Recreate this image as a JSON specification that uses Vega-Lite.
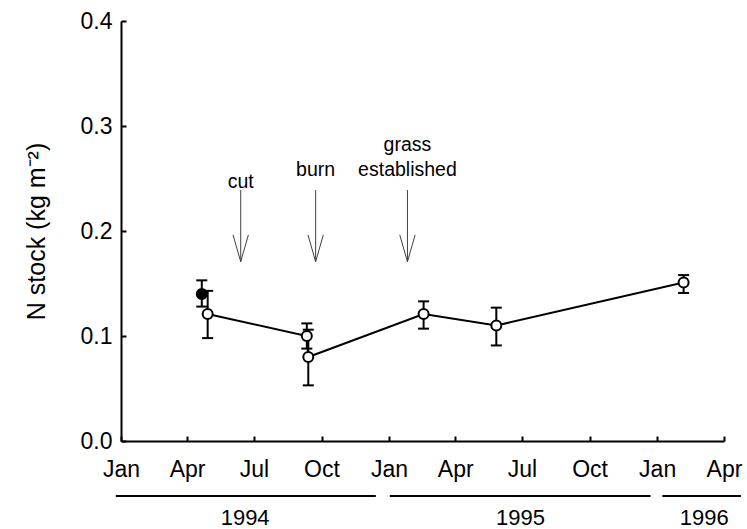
{
  "$schema": "https://vega.github.io/schema/vega-lite/v6.json",
  "width": 603,
  "height": 420,
  "autosize": {"type": "none"},
  "padding": {"left": 121, "top": 21, "right": 23, "bottom": 88},
  "background": "white",
  "config": {
    "view": {"stroke": null},
    "font": "Liberation Sans",
    "axis": {
      "grid": false,
      "labelFont": "Liberation Sans",
      "labelFontSize": 23,
      "labelColor": "black",
      "domainColor": "black",
      "domainWidth": 2,
      "tickColor": "black",
      "tickWidth": 2,
      "tickSize": -5,
      "titleFont": "Liberation Sans",
      "titleFontSize": 25,
      "titleFontWeight": "normal",
      "titleColor": "black"
    }
  },
  "datasets": {
    "points": [
      {"date": "1994-04-21", "n": 0.140, "lo": 0.128, "hi": 0.153, "group": "filled"},
      {"date": "1994-04-29", "n": 0.121, "lo": 0.098, "hi": 0.143, "group": "open"},
      {"date": "1994-09-11", "n": 0.100, "lo": 0.088, "hi": 0.112, "group": "open"},
      {"date": "1994-09-13", "n": 0.080, "lo": 0.053, "hi": 0.106, "group": "open"},
      {"date": "1995-02-17", "n": 0.121, "lo": 0.107, "hi": 0.133, "group": "open"},
      {"date": "1995-05-27", "n": 0.110, "lo": 0.091, "hi": 0.127, "group": "open"},
      {"date": "1996-02-06", "n": 0.151, "lo": 0.141, "hi": 0.158, "group": "open"}
    ],
    "events": [
      {"event": "cut", "date": "1994-06-13", "label": "cut"},
      {"event": "burn", "date": "1994-09-23", "label": "burn"},
      {"event": "grass", "date": "1995-01-26", "label": "grass\nestablished"}
    ],
    "years": [
      {"year": "1994", "start": "1993-12-25", "end": "1994-12-14", "mid": "1994-06-19"},
      {"year": "1995", "start": "1995-01-02", "end": "1995-12-23", "mid": "1995-06-29"},
      {"year": "1996", "start": "1996-01-08", "end": "1996-04-24", "mid": "1996-03-05"}
    ]
  },
  "layer": [
    {
      "data": {"name": "points"},
      "transform": [{"filter": "datum.group === 'open'"}],
      "mark": {"type": "line", "color": "black", "strokeWidth": 2},
      "encoding": {
        "x": {
          "field": "date", "type": "temporal", "title": null,
          "scale": {"type": "utc", "domain": [{"year": 1994, "month": 1, "date": 1, "utc": true}, {"year": 1996, "month": 4, "date": 1, "utc": true}]},
          "axis": {
            "values": [
              {"year": 1994, "month": 1, "date": 1, "utc": true},
              {"year": 1994, "month": 4, "date": 1, "utc": true},
              {"year": 1994, "month": 7, "date": 1, "utc": true},
              {"year": 1994, "month": 10, "date": 1, "utc": true},
              {"year": 1995, "month": 1, "date": 1, "utc": true},
              {"year": 1995, "month": 4, "date": 1, "utc": true},
              {"year": 1995, "month": 7, "date": 1, "utc": true},
              {"year": 1995, "month": 10, "date": 1, "utc": true},
              {"year": 1996, "month": 1, "date": 1, "utc": true},
              {"year": 1996, "month": 4, "date": 1, "utc": true}
            ],
            "labelExpr": "utcFormat(datum.value, '%b')",
            "labelPadding": 22,
            "labelFlush": false,
            "labelOverlap": false
          }
        },
        "y": {
          "field": "n", "type": "quantitative",
          "title": "N stock (kg m⁻²)",
          "scale": {"domain": [0, 0.4], "nice": false, "zero": false},
          "axis": {"values": [0, 0.1, 0.2, 0.3, 0.4], "format": ".1f", "labelPadding": 14, "titlePadding": 31}
        }
      }
    },
    {
      "data": {"name": "years"},
      "mark": {"type": "rule", "color": "black", "strokeWidth": 2},
      "encoding": {
        "x": {"field": "start", "type": "temporal", "title": null},
        "x2": {"field": "end"},
        "y": {"datum": -0.0524, "type": "quantitative"}
      }
    },
    {
      "data": {"name": "years"},
      "mark": {"type": "text", "fontSize": 22, "color": "black", "align": "center", "baseline": "middle"},
      "encoding": {
        "x": {"field": "mid", "type": "temporal", "title": null},
        "y": {"datum": -0.073, "type": "quantitative"},
        "text": {"field": "year"}
      }
    },
    {
      "data": {"name": "events"},
      "mark": {"type": "rule", "color": "#404040", "strokeWidth": 1},
      "encoding": {
        "x": {"field": "date", "type": "temporal", "title": null},
        "y": {"datum": 0.239, "type": "quantitative"},
        "y2": {"datum": 0.1708}
      }
    },
    {
      "data": {"name": "events"},
      "mark": {"type": "point", "shape": "M-1.92,-6.7L0,0L1.92,-6.7", "size": 64, "filled": false, "stroke": "#404040", "strokeWidth": 1, "opacity": 1},
      "encoding": {
        "x": {"field": "date", "type": "temporal", "title": null},
        "y": {"datum": 0.1708, "type": "quantitative"}
      }
    },
    {
      "data": {"name": "events"},
      "transform": [{"filter": "datum.event === 'grass'"}],
      "mark": {"type": "text", "fontSize": 19.5, "color": "black", "align": "center", "baseline": "alphabetic", "lineBreak": "\n", "lineHeight": 25},
      "encoding": {
        "x": {"field": "date", "type": "temporal", "title": null},
        "y": {"datum": 0.2762, "type": "quantitative"},
        "text": {"field": "label"}
      }
    },
    {
      "data": {"name": "events"},
      "transform": [{"filter": "datum.event === 'burn'"}],
      "mark": {"type": "text", "fontSize": 19.5, "color": "black", "align": "center", "baseline": "alphabetic"},
      "encoding": {
        "x": {"field": "date", "type": "temporal", "title": null},
        "y": {"datum": 0.2524, "type": "quantitative"},
        "text": {"field": "label"}
      }
    },
    {
      "data": {"name": "events"},
      "transform": [{"filter": "datum.event === 'cut'"}],
      "mark": {"type": "text", "fontSize": 19.5, "color": "black", "align": "center", "baseline": "alphabetic"},
      "encoding": {
        "x": {"field": "date", "type": "temporal", "title": null},
        "y": {"datum": 0.241, "type": "quantitative"},
        "text": {"field": "label"}
      }
    },
    {
      "data": {"name": "points"},
      "mark": {"type": "rule", "color": "black", "strokeWidth": 2},
      "encoding": {
        "x": {"field": "date", "type": "temporal", "title": null},
        "y": {"field": "lo", "type": "quantitative"},
        "y2": {"field": "hi"}
      }
    },
    {
      "data": {"name": "points"},
      "mark": {"type": "tick", "orient": "horizontal", "color": "black", "size": 11, "thickness": 2, "opacity": 1},
      "encoding": {
        "x": {"field": "date", "type": "temporal", "title": null},
        "y": {"field": "lo", "type": "quantitative"}
      }
    },
    {
      "data": {"name": "points"},
      "mark": {"type": "tick", "orient": "horizontal", "color": "black", "size": 11, "thickness": 2, "opacity": 1},
      "encoding": {
        "x": {"field": "date", "type": "temporal", "title": null},
        "y": {"field": "hi", "type": "quantitative"}
      }
    },
    {
      "data": {"name": "points"},
      "mark": {"type": "point", "shape": "circle", "filled": true, "stroke": "black", "strokeWidth": 2, "size": 100, "opacity": 1},
      "encoding": {
        "x": {"field": "date", "type": "temporal", "title": null},
        "y": {"field": "n", "type": "quantitative"},
        "fill": {"field": "group", "type": "nominal", "scale": {"domain": ["filled", "open"], "range": ["black", "white"]}, "legend": null}
      }
    }
  ]
}
